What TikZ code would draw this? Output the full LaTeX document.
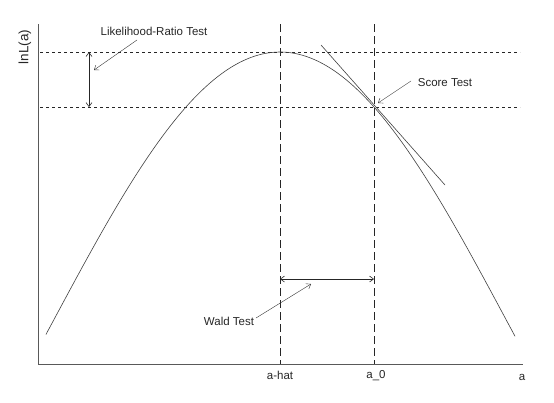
\documentclass[tikz,border=0pt]{standalone}
\usepackage{fontspec}
\setmainfont{Liberation Sans}
\usetikzlibrary{arrows.meta, positioning, calc}

\begin{document}
\begin{tikzpicture}[
  x=1pt, y=-1pt,
  every node/.style={font=\fontsize{11.5}{13}\selectfont, inner sep=1pt, text=black!85},
  axis/.style={draw=black!65, semithick},
  curve/.style={draw=black!75, semithick},
  level/.style={draw=black!85, dash pattern=on 3pt off 3pt, semithick},
  vline/.style={draw=black!85, dash pattern=on 8pt off 4pt, semithick},
  arr/.style={-{Straight Barb[length=4pt, width=6pt]}, thin, draw=black!80},
  dbl/.style={{Straight Barb[length=4pt, width=6pt]}-{Straight Barb[length=4pt, width=6pt]}, semithick, draw=black!85}
]
  \useasboundingbox (0,0) rectangle (554,402);

  % axes
  \coordinate (origin) at (38,364);
  \coordinate (ytop) at (38,24);
  \coordinate (xend) at (523,364);
  \draw[axis] (ytop) -- (origin) -- (xend);
  \node[rotate=90, font=\fontsize{13.5}{15}\selectfont] (ylab) at (25,47) {lnL(a)};
  \node (ahatlab) at (280,375) {a-hat};
  \node (azerolab) at (376,376) {a\_0};
  \node (alab) at (522,377) {a};

  % levels and estimates
  \coordinate (topl) at (40,52);
  \coordinate (topr) at (520,52);
  \coordinate (lowl) at (40,107);
  \coordinate (lowr) at (520,107);
  \draw[level] (topl) -- (topr);
  \draw[level] (lowl) -- (lowr);
  \coordinate (ahattop) at (280,24);
  \coordinate (ahat) at (280,364);
  \coordinate (azerotop) at (374,24);
  \coordinate (azero) at (374,364);
  \draw[vline] (ahattop) -- (ahat);
  \draw[vline] (azerotop) -- (azero);

  % log-likelihood and tangent
  \draw[curve] plot[domain=46:515, samples=120, smooth]
    (\x, {52+269.6*(1-cos(deg((\x-280)/144.6)))});
  \coordinate (tana) at (321,45);
  \coordinate (tanb) at (445,185);
  \draw[curve] (tana) -- (tanb);

  % likelihood-ratio test
  \coordinate (lrtop) at (89,52);
  \coordinate (lrbot) at (89,107);
  \draw[dbl] (lrtop) -- (lrbot);
  \node (lrt) at (154,31) {Likelihood-Ratio Test};
  \coordinate (lrfrom) at (137,40);
  \coordinate (lrto) at (94,70);
  \draw[arr] (lrfrom) -- (lrto);

  % score test
  \node (score) at (445,83) {Score Test};
  \coordinate (scfrom) at (411,81);
  \coordinate (scto) at (378,103);
  \draw[arr] (scfrom) -- (scto);

  % wald test
  \coordinate (wleft) at (280,279);
  \coordinate (wright) at (374,279);
  \draw[dbl] (wleft) -- (wright);
  \node (wald) at (229,321) {Wald Test};
  \coordinate (wfrom) at (256,318);
  \coordinate (wto) at (311,284);
  \draw[arr] (wfrom) -- (wto);
\end{tikzpicture}
\end{document}
